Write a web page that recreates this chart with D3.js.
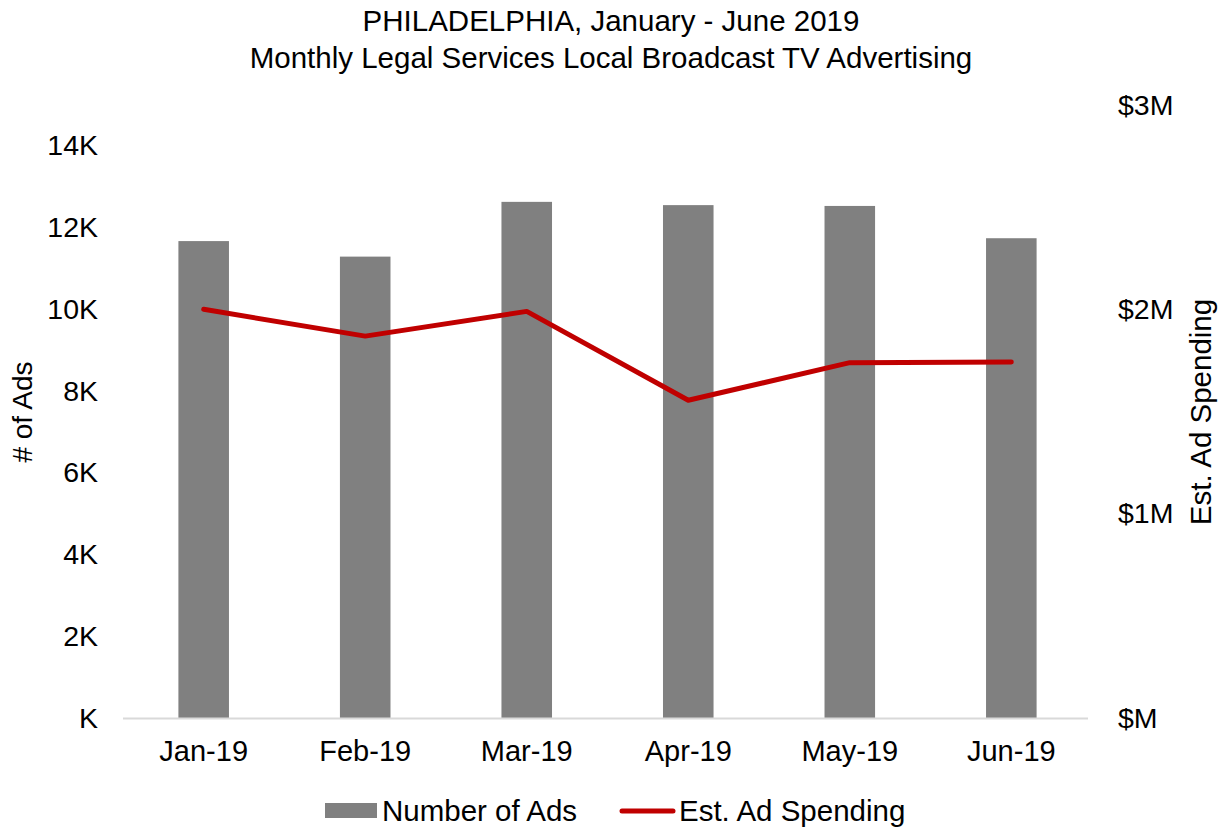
<!DOCTYPE html>
<html>
<head>
<meta charset="utf-8">
<script src="https://cdn.jsdelivr.net/npm/d3@7"></script>
<style>
  body { margin: 0; background: #fff; }
  text { font-family: "Liberation Sans", Arial, sans-serif; fill: #000; }
</style>
</head>
<body>
<div id="wrapper"></div>
<script>
// data
const months = ['Jan-19', 'Feb-19', 'Mar-19', 'Apr-19', 'May-19', 'Jun-19'];
const numberOfAds = [11670, 11290, 12630, 12550, 12530, 11740];
const adSpending = [2.0, 1.869, 1.99, 1.555, 1.739, 1.742]; // $M
const leftTicks = [0, 2000, 4000, 6000, 8000, 10000, 12000, 14000];
const rightTicks = [0, 1, 2, 3];
const titleLines = ['PHILADELPHIA, January - June 2019', 'Monthly Legal Services Local Broadcast TV Advertising'];

function drawChart() {
    const dimensions = {
        width: 1227,
        height: 829,
        margin: { top: 105, right: 135, bottom: 111, left: 123 }
    };
    dimensions.boundedWidth = dimensions.width - dimensions.margin.left - dimensions.margin.right;
    dimensions.boundedHeight = dimensions.height - dimensions.margin.top - dimensions.margin.bottom;

    const wrapper = d3.select('#wrapper')
        .append('svg')
        .attr('width', dimensions.width)
        .attr('height', dimensions.height);
    const bounds = wrapper.append('g')
        .attr('transform', `translate(${dimensions.margin.left},${dimensions.margin.top})`);

    // scales
    const xScale = d3.scaleBand()
        .domain(months)
        .range([0, 969])
        .paddingInner(0.687)
        .paddingOuter(0.343);
    const yLeft = d3.scaleLinear()
        .domain([0, 15000])
        .range([dimensions.boundedHeight, 0]);
    const yRight = d3.scaleLinear()
        .domain([0, 3])
        .range([dimensions.boundedHeight, 0]);

    // bars
    bounds.selectAll('rect.bar')
        .data(months)
        .join('rect')
        .attr('class', 'bar')
        .attr('x', d => xScale(d))
        .attr('width', xScale.bandwidth())
        .attr('y', (d, i) => yLeft(numberOfAds[i]))
        .attr('height', (d, i) => dimensions.boundedHeight - yLeft(numberOfAds[i]))
        .attr('fill', '#808080');

    // x axis line
    bounds.append('line')
        .attr('x1', 0)
        .attr('x2', 965)
        .attr('y1', dimensions.boundedHeight + 0.5)
        .attr('y2', dimensions.boundedHeight + 0.5)
        .attr('stroke', '#d9d9d9')
        .attr('stroke-width', 2);

    // line
    const lineGen = d3.line()
        .x((d, i) => xScale(months[i]) + xScale.bandwidth() / 2)
        .y(d => yRight(d));
    bounds.append('path')
        .datum(adSpending)
        .attr('d', lineGen)
        .attr('fill', 'none')
        .attr('stroke', '#c00000')
        .attr('stroke-width', 5)
        .attr('stroke-linejoin', 'round')
        .attr('stroke-linecap', 'round');

    // axes
    const xAxis = bounds.append('g')
        .attr('transform', `translate(0,${dimensions.boundedHeight})`)
        .call(d3.axisBottom(xScale).tickSize(0).tickPadding(22));
    xAxis.select('.domain').remove();
    xAxis.selectAll('text').style('font-size', '29px').attr('dy', '0.71em');

    const yAxisL = bounds.append('g')
        .call(d3.axisLeft(yLeft).tickValues(leftTicks).tickSize(0).tickPadding(25)
            .tickFormat(d => (d === 0 ? '' : d / 1000) + 'K'));
    yAxisL.select('.domain').remove();
    yAxisL.selectAll('text').style('font-size', '28.5px');

    const yAxisR = bounds.append('g')
        .attr('transform', `translate(${dimensions.boundedWidth - 25},0)`)
        .call(d3.axisRight(yRight).tickValues(rightTicks).tickSize(0).tickPadding(51)
            .tickFormat(d => '$' + (d === 0 ? '' : d) + 'M'));
    yAxisR.select('.domain').remove();
    yAxisR.selectAll('text').style('font-size', '28.5px');

    // axis titles
    wrapper.append('text')
        .attr('transform', `translate(32,412) rotate(-90)`)
        .attr('text-anchor', 'middle')
        .style('font-size', '28px')
        .text('# of Ads');
    wrapper.append('text')
        .attr('transform', `translate(1211,412) rotate(-90)`)
        .attr('text-anchor', 'middle')
        .style('font-size', '29.5px')
        .text('Est. Ad Spending');

    // title
    wrapper.append('g').selectAll('text')
        .data(titleLines)
        .join('text')
        .attr('x', 611)
        .attr('y', (d, i) => 31 + i * 37)
        .attr('text-anchor', 'middle')
        .style('font-size', '29.5px')
        .text(d => d);

    // legend
    const legend = wrapper.append('g');
    legend.append('rect')
        .attr('x', 325).attr('y', 803).attr('width', 52).attr('height', 15)
        .attr('fill', '#808080');
    legend.append('text')
        .attr('x', 382).attr('y', 821)
        .style('font-size', '29.5px')
        .text('Number of Ads');
    legend.append('line')
        .attr('x1', 622).attr('x2', 673).attr('y1', 811).attr('y2', 811)
        .attr('stroke', '#c00000').attr('stroke-width', 5).attr('stroke-linecap', 'round');
    legend.append('text')
        .attr('x', 679).attr('y', 821)
        .style('font-size', '29.5px')
        .text('Est. Ad Spending');
}

drawChart();
</script>
</body>
</html>
